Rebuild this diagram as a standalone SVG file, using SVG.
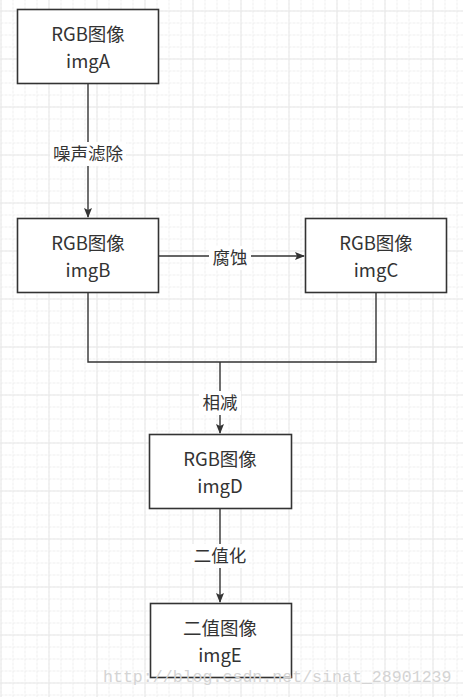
<svg xmlns="http://www.w3.org/2000/svg" width="463" height="697" viewBox="0 0 463 697">
<style>
.box{fill:#fff;stroke:#333;stroke-width:1.6}
.t{font-family:"Noto Sans CJK SC","Noto Sans",sans-serif;font-size:18.5px;fill:#333;text-anchor:middle}
.lbl{font-family:"Noto Sans CJK SC","Noto Sans",sans-serif;font-size:17.5px;fill:#333;text-anchor:middle}
.ln{fill:none;stroke:#333;stroke-width:1.4}
.lb{fill:#fff}
.wm{font-family:"Liberation Mono",monospace;font-size:16.6px;fill:#d4d4d4}
</style>
<defs>
<pattern id="g" width="12" height="12" patternUnits="userSpaceOnUse" x="0.5" y="10.5">
<path d="M0 0.5H12M0.5 0V12" stroke="#eeeeee" stroke-width="1" stroke-dasharray="3,1" fill="none"/>
</pattern>
<pattern id="G" width="48" height="48" patternUnits="userSpaceOnUse" x="0.5" y="10.5">
<path d="M0 0.5H48M0.5 0V48" stroke="#e8e8e8" stroke-width="1" fill="none"/>
</pattern>
<marker id="ar" markerWidth="10" markerHeight="10" refX="9" refY="5" orient="auto" markerUnits="userSpaceOnUse">
<path d="M0 1L10 5L0 9L2 5Z" fill="#333"/>
</marker>
</defs>
<rect width="463" height="697" fill="#fff"/>
<rect width="463" height="697" fill="url(#g)"/>
<rect width="463" height="697" fill="url(#G)"/>
<g id="connectors">
<path class="ln" d="M88 83V217" marker-end="url(#ar)"/>
<rect class="lb" x="50" y="142" width="76" height="24"/>
<text class="lbl" x="88" y="160">噪声滤除</text>
<path class="ln" d="M158 256H304" marker-end="url(#ar)"/>
<rect class="lb" x="209" y="246" width="42" height="24"/>
<text class="lbl" x="230" y="264">腐蚀</text>
<path class="ln" d="M88 293V362H376V293M220 362V433" marker-end="url(#ar)"/>
<rect class="lb" x="199" y="391" width="42" height="24"/>
<text class="lbl" x="220" y="409">相减</text>
<path class="ln" d="M220 508V602" marker-end="url(#ar)"/>
<rect class="lb" x="191" y="544" width="58" height="24"/>
<text class="lbl" x="220" y="562">二值化</text>
</g>
<g id="imgA"><rect class="box" x="17.5" y="9.5" width="141" height="74"/><text class="t" x="88" y="41">RGB图像</text><text class="t" x="88" y="68">imgA</text></g>
<g id="imgB"><rect class="box" x="17.5" y="218.5" width="141" height="74"/><text class="t" x="88" y="250">RGB图像</text><text class="t" x="88" y="277">imgB</text></g>
<g id="imgC"><rect class="box" x="305.5" y="218.5" width="141" height="74"/><text class="t" x="376" y="250">RGB图像</text><text class="t" x="376" y="277">imgC</text></g>
<g id="imgD"><rect class="box" x="149.5" y="434.5" width="142" height="74"/><text class="t" x="220" y="466">RGB图像</text><text class="t" x="220" y="493">imgD</text></g>
<g id="imgE"><rect class="box" x="150.5" y="603.5" width="141" height="74"/><text class="t" x="220" y="635">二值图像</text><text class="t" x="220" y="662">imgE</text></g>
<text class="wm" x="103" y="682">http://blog.csdn.net/sinat_28901239</text>
</svg>
